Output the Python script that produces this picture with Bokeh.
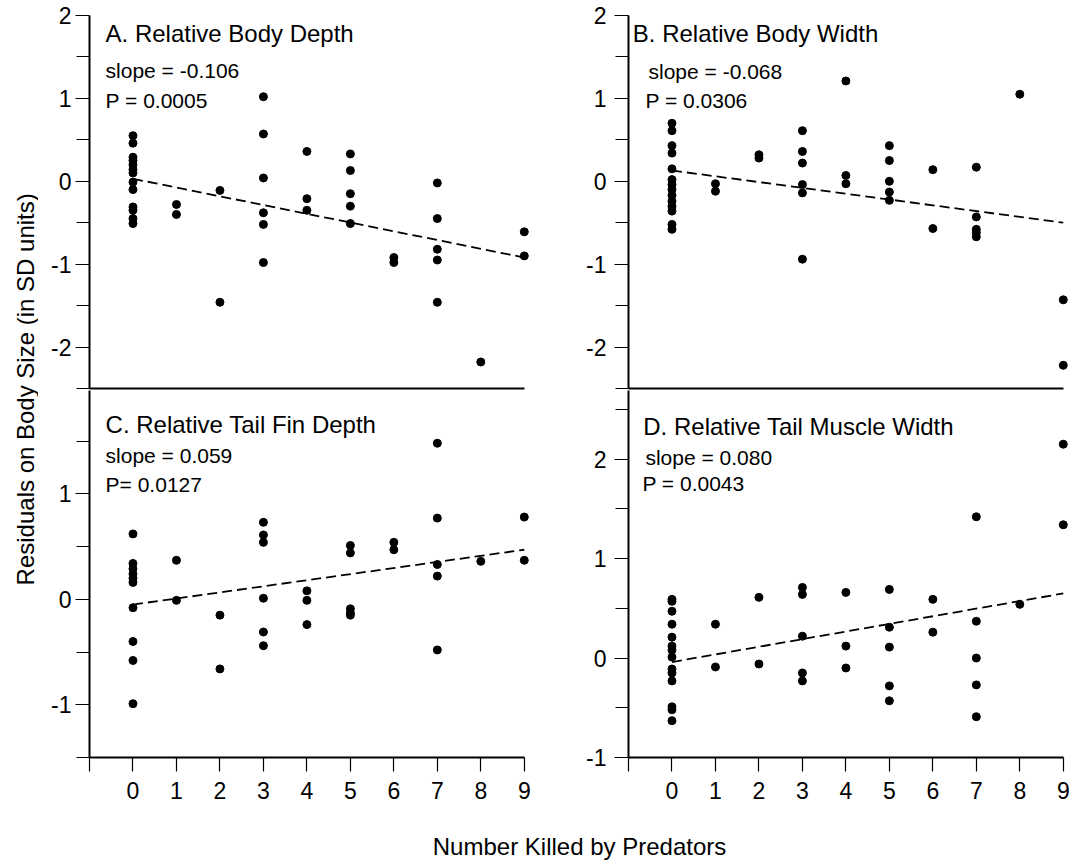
import math
from bokeh.plotting import figure
from bokeh.models import Range1d, FixedTicker, Label
from bokeh.layouts import row, column
from bokeh.embed import file_html
from bokeh.resources import INLINE

FONT = "Liberation Sans"

# ---------------- data ----------------
# Panel A: Relative Body Depth
a_x = [0]*13 + [1]*2 + [2]*2 + [3]*6 + [4]*3 + [5]*5 + [6]*2 + [7]*5 + [8] + [9]*2
a_y = [0.55, 0.46, 0.29, 0.25, 0.20, 0.14, 0.10, -0.01, -0.10, -0.31, -0.35, -0.45, -0.51,
       -0.28, -0.40,
       -0.11, -1.46,
       1.02, 0.57, 0.04, -0.38, -0.52, -0.98,
       0.36, -0.21, -0.35,
       0.33, 0.13, -0.15, -0.30, -0.51,
       -0.92, -0.98,
       -0.02, -0.45, -0.82, -0.95, -1.46,
       -2.18,
       -0.61, -0.90]
a_fit = [0.03, -0.92]

# Panel B: Relative Body Width
b_x = [0]*14 + [1]*2 + [2]*2 + [3]*6 + [4]*3 + [5]*5 + [6]*2 + [7]*5 + [8] + [9]*2
b_y = [0.70, 0.61, 0.43, 0.34, 0.15, 0.02, -0.04, -0.10, -0.17, -0.24, -0.30, -0.36, -0.52, -0.58,
       -0.03, -0.12,
       0.32, 0.28,
       0.61, 0.36, 0.22, -0.04, -0.14, -0.94,
       1.21, 0.07, -0.03,
       0.43, 0.25, 0.00, -0.13, -0.23,
       0.14, -0.57,
       0.17, -0.43, -0.58, -0.62, -0.67,
       1.05,
       -1.43, -2.22]
b_fit = [0.13, -0.50]

# Panel C: Relative Tail Fin Depth
c_x = [0]*10 + [1]*2 + [2]*2 + [3]*6 + [4]*3 + [5]*5 + [6]*2 + [7]*5 + [8] + [9]*2
c_y = [0.62, 0.34, 0.29, 0.24, 0.20, 0.16, -0.08, -0.40, -0.58, -0.99,
       0.37, -0.01,
       -0.15, -0.66,
       0.73, 0.61, 0.54, 0.01, -0.31, -0.44,
       0.08, -0.01, -0.24,
       0.51, 0.44, -0.09, -0.13, -0.15,
       0.54, 0.47,
       1.48, 0.77, 0.33, 0.22, -0.48,
       0.36,
       0.78, 0.37]
c_fit = [-0.05, 0.47]

# Panel D: Relative Tail Muscle Width
d_x = [0]*14 + [1]*2 + [2]*2 + [3]*5 + [4]*3 + [5]*5 + [6]*2 + [7]*5 + [8] + [9]*2
d_y = [0.59, 0.57, 0.47, 0.34, 0.21, 0.12, 0.08, 0.01, -0.11, -0.15, -0.23, -0.49, -0.52, -0.63,
       0.34, -0.09,
       0.61, -0.06,
       0.71, 0.64, 0.22, -0.15, -0.23,
       0.66, 0.12, -0.10,
       0.69, 0.31, 0.11, -0.28, -0.43,
       0.59, 0.26,
       1.42, 0.37, 0.00, -0.27, -0.59,
       0.54,
       2.15, 1.34]
d_fit = [-0.04, 0.65]

fit_x = [0, 9]

x_ticks = [-1, 0, 1, 2, 3, 4, 5, 6, 7, 8, 9]

titles = ["A. Relative Body Depth", "B. Relative Body Width",
          "C. Relative Tail Fin Depth", "D. Relative Tail Muscle Width"]
slopes = ["slope = -0.106", "slope = -0.068", "slope = 0.059", "slope = 0.080"]
pvals = ["P = 0.0005", "P = 0.0306", "P=  0.0127", "P = 0.0043"]

y_label = "Residuals on Body Size  (in SD units)"
x_label = "Number Killed by Predators"


def panel(xs, ys, fit, ylim, major, minor, texts, width, left, right,
          height, top, bottom, bottom_ticks, standoff):
    p = figure(width=width, height=height, x_range=Range1d(-1, 9.12),
               y_range=Range1d(*ylim), output_backend="svg", toolbar_location=None,
               min_border_left=left, min_border_right=right,
               min_border_top=top, min_border_bottom=bottom)
    p.outline_line_color = None
    p.grid.visible = False
    p.background_fill_color = "white"
    p.border_fill_color = "white"

    ya = p.yaxis[0]
    ya.ticker = FixedTicker(ticks=major, minor_ticks=minor)
    ya.major_label_overrides = {t: "%d" % t for t in major}
    ya.axis_line_width = 2
    ya.axis_line_color = "black"
    ya.major_tick_out = 14
    ya.major_tick_in = 0
    ya.minor_tick_out = 13
    ya.minor_tick_in = 0
    ya.major_tick_line_width = 1.2
    ya.minor_tick_line_width = 1.2
    ya.major_label_text_font = FONT
    ya.major_label_text_font_size = "23px"
    ya.major_label_text_color = "black"
    ya.major_label_standoff = standoff

    xa = p.xaxis[0]
    xa.axis_line_width = 2
    xa.axis_line_color = "black"
    xa.bounds = (-1, 9)
    if bottom_ticks:
        xa.ticker = FixedTicker(ticks=x_ticks, minor_ticks=[])
        xa.major_label_overrides = {-1: ""}
        xa.major_tick_out = 14
        xa.major_tick_in = 0
        xa.minor_tick_out = 0
        xa.minor_tick_in = 0
        xa.major_tick_line_width = 1.2
        xa.major_label_text_font = FONT
        xa.major_label_text_font_size = "23px"
        xa.major_label_text_color = "black"
        xa.major_label_standoff = 10
    else:
        xa.ticker = FixedTicker(ticks=[], minor_ticks=[])
        xa.major_tick_out = 0
        xa.major_tick_in = 0
        xa.minor_tick_out = 0
        xa.minor_tick_in = 0
        xa.major_label_standoff = 0
        xa.major_label_text_font_size = "0px"

    p.line(fit_x, fit, line_dash="10 5", line_width=1.8, line_color="black")
    p.scatter(xs, ys, marker="circle", size=8, fill_color="black", line_color="black")

    for (tx, ty, txt, fs) in texts:
        p.add_layout(Label(x=tx, y=ty, text=txt, text_font=FONT, text_font_size=fs,
                           text_align="left", text_baseline="middle", text_color="black"))
    return p


pA = panel(a_x, a_y, a_fit, (-2.5, 2), [-2, -1, 0, 1, 2], [-2.5, -1.5, -0.5, 0.5, 1.5],
           [(-0.63, 1.78, titles[0], "24px"), (-0.63, 1.34, slopes[0], "21px"),
            (-0.63, 0.98, pvals[0], "21px")],
           530, 51, 39, 390, 15, 2, False, 4)
pB = panel(b_x, b_y, b_fit, (-2.5, 2), [-2, -1, 0, 1, 2], [-2.5, -1.5, -0.5, 0.5, 1.5],
           [(-0.90, 1.78, titles[1], "24px"), (-0.54, 1.32, slopes[1], "21px"),
            (-0.61, 0.98, pvals[1], "21px")],
           502, 60, 2, 390, 15, 2, False, 8)
pC = panel(c_x, c_y, c_fit, (-1.5, 1.98), [-1, 0, 1], [-1.5, -0.5, 0.5, 1.5],
           [(-0.63, 1.66, titles[2], "24px"), (-0.63, 1.36, slopes[2], "21px"),
            (-0.63, 1.09, pvals[2], "21px")],
           530, 51, 39, 425, 0, 58, True, 4)
pD = panel(d_x, d_y, d_fit, (-1, 2.69), [-1, 0, 1, 2], [-0.5, 0.5, 1.5, 2.5],
           [(-0.66, 2.33, titles[3], "24px"), (-0.61, 2.02, slopes[3], "21px"),
            (-0.68, 1.75, pvals[3], "21px")],
           502, 60, 2, 425, 0, 58, True, 8)

# y-axis title strip
ylab = figure(width=38, height=815, x_range=Range1d(0, 38), y_range=Range1d(0, 815),
              x_axis_type=None, y_axis_type=None, output_backend="svg",
              toolbar_location=None, min_border=0)
ylab.outline_line_color = None
ylab.grid.visible = False
ylab.add_layout(Label(x=25, y=429.5, text=y_label, angle=math.pi / 2, text_font=FONT,
                      text_font_size="24px", text_align="center", text_baseline="middle",
                      text_color="black"))

# x-axis title strip
xlab = figure(width=1070, height=46, x_range=Range1d(0, 1070), y_range=Range1d(0, 46),
              x_axis_type=None, y_axis_type=None, output_backend="svg",
              toolbar_location=None, min_border=0)
xlab.outline_line_color = None
xlab.grid.visible = False
xlab.add_layout(Label(x=579, y=15, text=x_label, text_font=FONT, text_font_size="24px",
                      text_align="center", text_baseline="alphabetic", text_color="black"))

layout = column(row(ylab, column(row(pA, pB), row(pC, pD))), xlab)

open("out.html", "w").write(file_html(layout, INLINE))
